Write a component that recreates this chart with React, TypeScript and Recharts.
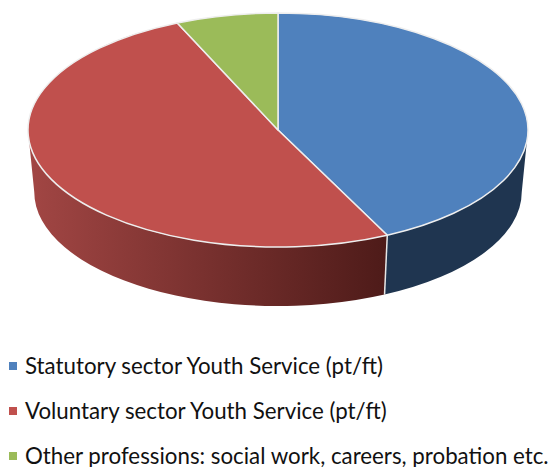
import { Legend, Pie, PieChart } from "recharts";

const categories = [
  "Statutory sector Youth Service (pt/ft)",
  "Voluntary sector Youth Service (pt/ft)",
  "Other professions: social work, careers, probation etc.",
];
const values = [42.8, 50.6, 6.6];
const colors = ["#4f81bd", "#c0504d", "#9bbb59"];
const wallLeft = ["#1f3550", "#a24644", "#76932f"];
const wallRight = ["#1f3550", "#4e1b19", "#76932f"];

const data = categories.map((name, i) => ({ name, value: values[i], fill: colors[i] }));

// tilt of the pie, and the slightly smaller rim at the bottom of the wall
const SQUASH = 0.468;
const BOTTOM_SCALE = 0.975;
const DEPTH = 62;

function Slice3D(props: any) {
  const { cx, cy, outerRadius, startAngle, endAngle, fill, index } = props;
  const rx = outerRadius;
  const ry = outerRadius * SQUASH;
  const bx = rx * BOTTOM_SCALE;
  const by = ry * BOTTOM_SCALE;
  const rad = (a: number) => (a * Math.PI) / 180;
  const top = (a: number) => `${cx + rx * Math.cos(rad(a))} ${cy - ry * Math.sin(rad(a))}`;
  const bottom = (a: number) => `${cx + bx * Math.cos(rad(a))} ${cy + DEPTH - by * Math.sin(rad(a))}`;

  const large = Math.abs(startAngle - endAngle) > 180 ? 1 : 0;
  const face = `M ${cx} ${cy} L ${top(startAngle)} A ${rx} ${ry} 0 ${large} 1 ${top(endAngle)} Z`;

  // only the part of the rim facing the viewer has a wall
  const from = Math.min(startAngle, 0);
  const to = Math.max(endAngle, -180);
  const hasWall = from > to;
  const gradientId = `wall-${index}`;

  return (
    <g>
      {hasWall && (
        <>
          <defs>
            <linearGradient id={gradientId} gradientUnits="userSpaceOnUse" x1={cx - rx} x2={cx + rx * 0.43} y1="0" y2="0">
              <stop offset="0" stopColor={wallLeft[index]} />
              <stop offset="1" stopColor={wallRight[index]} />
            </linearGradient>
          </defs>
          <path
            d={`M ${top(from)} A ${rx} ${ry} 0 0 1 ${top(to)} L ${bottom(to)} A ${bx} ${by} 0 0 0 ${bottom(from)} Z`}
            fill={`url(#${gradientId})`}
          />
          {from < 0 && <path d={`M ${top(from)} L ${bottom(from)}`} stroke="#e6e6e6" strokeWidth={1.5} />}
        </>
      )}
      <path d={face} fill={fill} stroke="#eeeeee" strokeWidth={1.5} strokeLinejoin="round" />
    </g>
  );
}

function LegendRows({ payload }: any) {
  return (
    <div style={{ position: "relative", height: 112 }}>
      {(payload ?? []).map((entry: any, i: number) => (
        <div
          key={entry.value}
          style={{
            position: "absolute",
            left: 9,
            top: i * 45,
            height: 22,
            lineHeight: "22px",
            whiteSpace: "nowrap",
            display: "flex",
            alignItems: "center",
            fontFamily: "Lato, sans-serif",
            fontSize: 22.3,
            color: "#111111",
          }}
        >
          <span style={{ width: 8, height: 8, marginRight: 8, background: entry.color }} />
          {entry.value}
        </div>
      ))}
    </div>
  );
}

export default function App() {
  return (
    <div style={{ position: "absolute", left: 0, top: 0, width: 555, height: 467 }}>
      <PieChart width={555} height={467} margin={{ top: 0, right: 0, bottom: 0, left: 0 }}>
        <Pie
          data={data}
          dataKey="value"
          nameKey="name"
          cx={278}
          cy={130}
          outerRadius={250}
          startAngle={90}
          endAngle={-270}
          stroke="none"
          shape={Slice3D}
          isAnimationActive={false}
        />
        <Legend content={LegendRows} itemSorter={null} wrapperStyle={{ left: 0, top: 355, width: 555 }} />
      </PieChart>
    </div>
  );
}
